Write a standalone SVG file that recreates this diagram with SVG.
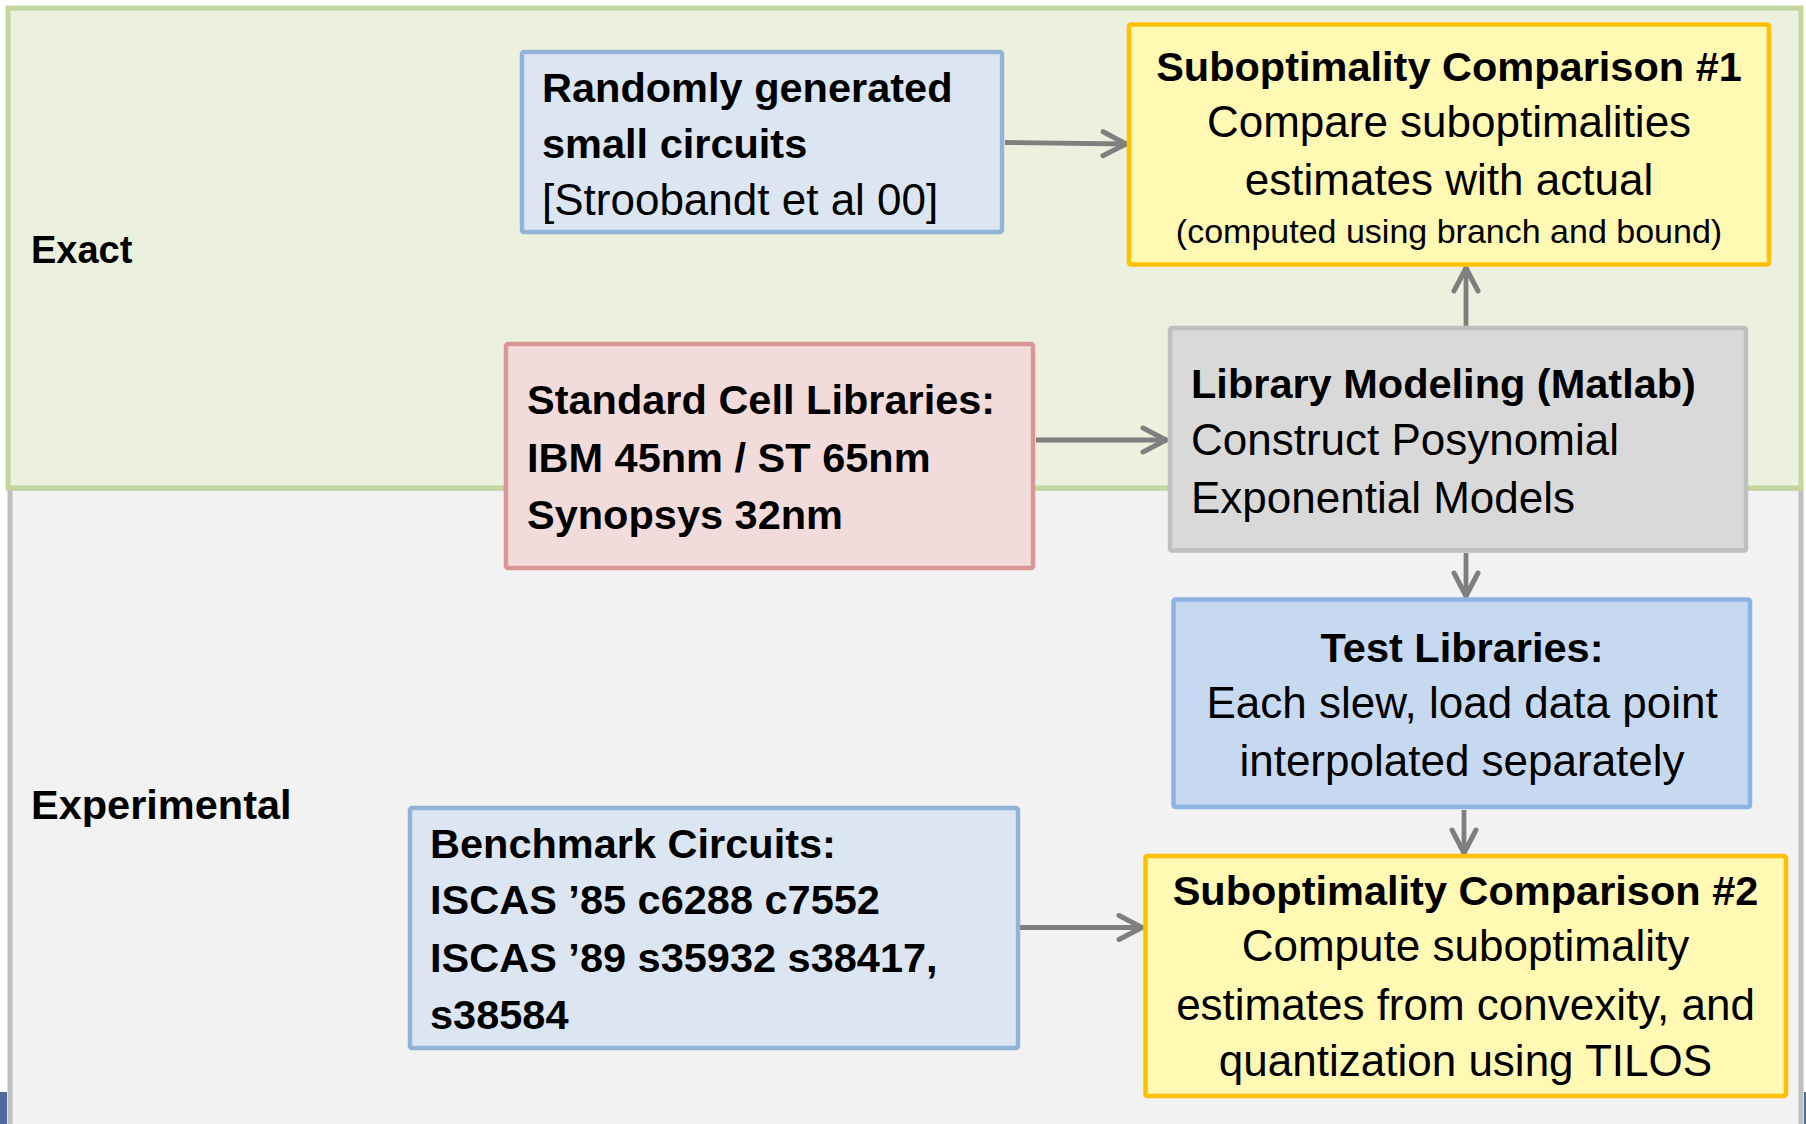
<svg xmlns="http://www.w3.org/2000/svg" width="1806" height="1124" viewBox="0 0 1806 1124">
  <defs>
    <marker id="arrow" markerUnits="userSpaceOnUse" viewBox="-30 -16 34 32" refX="0" refY="0" markerWidth="34" markerHeight="32" orient="auto">
      <path d="M-24,-12 L-1,0 L-24,12" fill="none" stroke="#7f7f7f" stroke-width="5" stroke-linecap="round" stroke-linejoin="round"/>
    </marker>
    <style>
      .t { font-family: "Liberation Sans", Arial, sans-serif; fill: #000; }
      .b { font-weight: bold; font-size: 41.5px; }
      .r { font-size: 44px; }
      .s { font-size: 34px; }
      .lbl { font-weight: bold; }
      .mid { text-anchor: middle; }
      .box { stroke-width: 4.5; }
      .blue { fill: #dce6f2; stroke: #95b3d7; }
      .yellow { fill: #fff9b4; stroke: #ffc000; }
      .grey { fill: #d9d9d9; stroke: #bfbfbf; }
      .pink { fill: #f2dcdb; stroke: #d99694; }
      .lib { fill: #c6d9f1; stroke: #8db3e2; }
      .conn { fill: none; stroke: #7f7f7f; stroke-width: 4.8; marker-end: url(#arrow); }
    </style>
  </defs>

  <rect x="0" y="0" width="1806" height="1124" fill="#ffffff"/>

  <!-- Region panels -->
  <g id="panel-experimental">
    <rect x="10" y="488" width="1791" height="660" fill="#f2f2f2" stroke="#bfbfbf" stroke-width="5"/>
    <text class="t lbl" x="31" y="819" font-size="41.5">Experimental</text>
  </g>
  <g id="panel-exact">
    <rect x="8" y="8" width="1793" height="480" fill="#ebf1de" stroke="#c3d69b" stroke-width="5"/>
    <text class="t lbl" x="31" y="263" font-size="38">Exact</text>
  </g>

  <!-- Footer slivers -->
  <rect x="0" y="1092" width="7" height="32" fill="#4f6b9b"/>
  <rect x="1804" y="1092" width="2" height="32" fill="#4f6b9b"/>

  <!-- Connectors -->
  <g id="connectors">
    <path class="conn" d="M1005,142.5 L1127,144"/>
    <path class="conn" d="M1036,440 L1167,440"/>
    <path class="conn" d="M1466,326 L1466,267"/>
    <path class="conn" d="M1466,553 L1466,597"/>
    <path class="conn" d="M1464,810 L1464,854"/>
    <path class="conn" d="M1020,927.5 L1143,927.5"/>
  </g>

  <g id="node-random">
    <rect class="box blue" x="522" y="52" width="480" height="180" rx="2"/>
    <text class="t b" x="542" y="102">Randomly generated</text>
    <text class="t b" x="542" y="158">small circuits</text>
    <text class="t r" x="542" y="215">[Stroobandt et al 00]</text>
  </g>

  <g id="node-sub1">
    <rect class="box yellow" x="1129" y="24.5" width="640" height="240" rx="2"/>
    <text class="t b mid" x="1449" y="81">Suboptimality Comparison #1</text>
    <text class="t r mid" x="1449" y="137">Compare suboptimalities</text>
    <text class="t r mid" x="1449" y="195">estimates with actual</text>
    <text class="t s mid" x="1449" y="243">(computed using branch and bound)</text>
  </g>

  <g id="node-libmodel">
    <rect class="box grey" x="1170" y="328" width="576" height="222.5" rx="2"/>
    <text class="t b" x="1191" y="398" font-size="42.5">Library Modeling (Matlab)</text>
    <text class="t r" x="1191" y="455">Construct Posynomial</text>
    <text class="t r" x="1191" y="513">Exponential Models</text>
  </g>

  <g id="node-stdcell">
    <rect class="box pink" x="506" y="344" width="527" height="224" rx="2"/>
    <text class="t b" x="527" y="414">Standard Cell Libraries:</text>
    <text class="t b" x="527" y="472">IBM 45nm / ST 65nm</text>
    <text class="t b" x="527" y="529">Synopsys 32nm</text>
  </g>

  <g id="node-testlib">
    <rect class="box lib" x="1173.5" y="599.5" width="576.5" height="207.5" rx="2"/>
    <text class="t b mid" x="1462" y="662">Test Libraries:</text>
    <text class="t r mid" x="1462" y="718">Each slew, load data point</text>
    <text class="t r mid" x="1462" y="776">interpolated separately</text>
  </g>

  <g id="node-benchmark">
    <rect class="box blue" x="410" y="808" width="608" height="240" rx="2"/>
    <text class="t b" x="430" y="858">Benchmark Circuits:</text>
    <text class="t b" x="430" y="914">ISCAS ’85 c6288 c7552</text>
    <text class="t b" x="430" y="972">ISCAS ’89 s35932 s38417,</text>
    <text class="t b" x="430" y="1029">s38584</text>
  </g>

  <g id="node-sub2">
    <rect class="box yellow" x="1145.5" y="856" width="640.5" height="240" rx="2"/>
    <text class="t b mid" x="1465.5" y="905">Suboptimality Comparison #2</text>
    <text class="t r mid" x="1465.5" y="961">Compute suboptimality</text>
    <text class="t r mid" x="1465.5" y="1020">estimates from convexity, and</text>
    <text class="t r mid" x="1465.5" y="1076">quantization using TILOS</text>
  </g>
</svg>
